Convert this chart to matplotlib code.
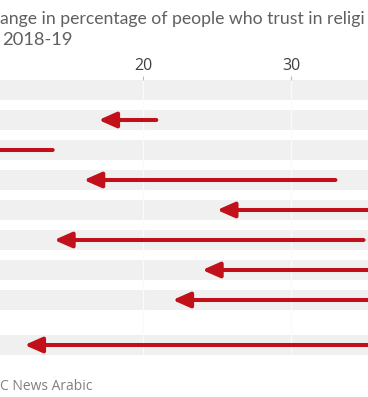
import matplotlib
matplotlib.use("Agg")
import matplotlib.pyplot as plt
import numpy as np

plt.rcParams['font.family'] = ['Open Sans', 'DejaVu Sans']

# Data (values read off the visible part of the chart; off-screen ends estimated)
rows = ["Row 1", "Row 2", "Row 3", "Row 4", "Row 5", "Row 6", "Row 7", "Row 8", "Row 9"]
start_2018 = [np.nan, 20.9, 13.9, 33.0, 40.0, 34.9, 38.0, 39.0, 45.0]
end_2019 = [np.nan, 17.0, 8.0, 16.0, 25.0, 14.0, 24.0, 22.0, 12.0]
row_pos = [0, 1, 2, 3, 4, 5, 6, 7, 8.5]
xticks = [20, 30]
xtick_labels = ["20", "30"]

title_line1 = "ange in percentage of people who trust in religi"
title_line2 = "2018-19"
source_text = "C News Arabic"

RED = "#c2101b"
BAND = "#f0f0f0"

W, H = 368, 397
fig = plt.figure(figsize=(W / 100, H / 100), dpi=100)

ax_top, ax_bot = 80, 355
ax = fig.add_axes([0, 1 - ax_bot / H, 1, (ax_bot - ax_top) / H])
ax.set_xlim(10.34, 35.2)
ax.set_ylim(8.5 + 1/3, -1/3)

for y in row_pos:
    ax.axhspan(y - 1/3, y + 1/3, color=BAND, lw=0, zorder=0)
for xt in xticks:
    ax.axvline(xt, color="#fafafa", lw=1.0, zorder=1)

for y, s, e in zip(row_pos, start_2018, end_2019):
    if np.isnan(s):
        continue
    ax.annotate("", xy=(e, y), xytext=(s, y), annotation_clip=False,
                arrowprops=dict(arrowstyle="-|>,head_length=0.95,head_width=0.42",
                                mutation_scale=11, lw=2.9, color=RED,
                                shrinkA=0, shrinkB=0), zorder=3)

for sp in ax.spines.values():
    sp.set_visible(False)
ax.set_yticks([])
ax.xaxis.tick_top()
ax.set_xticks(xticks)
ax.set_xticklabels(xtick_labels)
ax.tick_params(axis="x", length=3, width=0.8, color="#bbbbbb", pad=1.5,
               labelsize=11.5, labelcolor="#404040")

t1 = fig.text(0 / W, 1 - 24 / H, title_line1, fontsize=13.2, color="#606060",
              ha="left", va="baseline", family=["Lato", "DejaVu Sans"])
fig.text(2 / W, 1 - 45 / H, title_line2, fontsize=13.2, color="#606060",
         ha="left", va="baseline", family=["Lato", "DejaVu Sans"])
fig.text(0 / W, 1 - 389.5 / H, source_text, fontsize=10, color="#808080",
         ha="left", va="baseline")

# fit first title line to the visible width
fig.canvas.draw()
r = fig.canvas.get_renderer()
w = t1.get_window_extent(r).width
if w > 366:
    t1.set_fontsize(13.2 * 366 / w)

fig.savefig("out.png", dpi=100)
